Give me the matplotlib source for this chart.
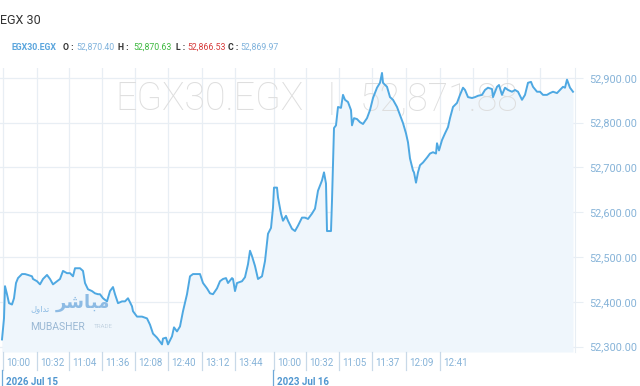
import numpy as np
import matplotlib.pyplot as plt
import matplotlib.transforms as mtransforms

# bar index (chart position) and close price
bar = [2, 4, 5, 7, 9, 12, 14, 16, 18, 22, 25, 28, 32, 33, 37, 40, 43, 47, 50, 53,
       57, 60, 63, 67, 70, 73, 75, 80, 83, 85, 88, 92, 95, 98, 100, 103, 107, 110, 113, 115,
       118, 122, 125, 128, 132, 133, 137, 142, 147, 150, 153, 157, 160, 162, 163, 166, 168, 172, 174, 177,
       180, 183, 187, 190, 193, 198, 200, 203, 207, 210, 213, 217, 220, 223, 226, 228, 232, 233, 235, 237,
       242, 245, 248, 250, 252, 255, 258, 262, 265, 268, 271, 273, 274, 277, 278, 281, 283, 286, 288, 292,
       295, 298, 302, 305, 308, 312, 315, 318, 322, 324, 326, 327, 331, 332,
       334, 336, 338, 341, 343, 345, 348, 351, 352, 354, 357, 360, 363, 367, 370, 373, 377, 380, 382, 383,
       387, 390, 393, 397, 400, 403, 406, 408, 410, 413, 414, 416, 418, 420, 423, 427, 430, 433, 436, 437,
       439, 442, 445, 448, 450, 453, 457, 460, 463, 465, 468, 472, 475, 478, 482, 485, 488, 492, 493, 497,
       499, 502, 505, 508, 512, 515, 518, 522, 525, 528, 531, 533, 537, 540, 543, 547, 550, 553, 557, 560,
       563, 565, 567, 570, 573]
close = [52316, 52363, 52435, 52417, 52397, 52394, 52408, 52442, 52453, 52462, 52462, 52460, 52457, 52451, 52446, 52439, 52451, 52460, 52451, 52439,
         52446, 52451, 52469, 52464, 52464, 52457, 52475, 52475, 52469, 52442, 52428, 52424, 52419, 52417, 52417, 52408, 52401, 52424, 52433, 52417,
         52397, 52401, 52401, 52408, 52390, 52379, 52367, 52367, 52363, 52349, 52329, 52320, 52311, 52305, 52318, 52320, 52305, 52323, 52343, 52334,
         52345, 52379, 52417, 52457, 52462, 52462, 52462, 52442, 52430, 52419, 52417, 52430, 52446, 52451, 52453, 52442, 52453, 52451, 52424, 52442,
         52446, 52455, 52484, 52514, 52502, 52480, 52451, 52457, 52491, 52552, 52565, 52610, 52655, 52655, 52633, 52597, 52581, 52592, 52581, 52563,
         52558, 52570, 52588, 52588, 52585, 52597, 52608, 52648, 52671, 52689, 52664, 52558, 52558, 52626,
         52788, 52794, 52835, 52833, 52862, 52851, 52846, 52828, 52794, 52810, 52808, 52801, 52797, 52810, 52828, 52855, 52878, 52889, 52911, 52889,
         52880, 52857, 52851, 52835, 52817, 52799, 52776, 52756, 52720, 52693, 52689, 52666, 52689, 52705, 52711, 52722, 52731, 52734, 52731, 52754,
         52738, 52761, 52776, 52790, 52810, 52835, 52844, 52862, 52878, 52873, 52857, 52855, 52857, 52860, 52862, 52873, 52878, 52875, 52857, 52880,
         52884, 52862, 52878, 52873, 52869, 52873, 52869, 52851, 52862, 52889, 52891, 52880, 52869, 52869, 52862, 52862, 52866, 52869, 52866, 52873,
         52880, 52878, 52896, 52878, 52869]

tick_pos = [3, 37, 69, 102, 135, 168, 202, 235, 274, 306, 339, 372, 406, 440]
tick_lbl = ['10:00', '10:32', '11:04', '11:36', '12:08', '12:40', '13:12', '13:44',
            '10:00', '10:32', '11:05', '11:37', '12:09', '12:41']
extra_grid = [473, 507, 540]
day_pos = [3, 274]
day_lbl = ['2026 Jul 15', '2023 Jul 16']
y_ticks = [52300, 52400, 52500, 52600, 52700, 52800, 52900]

W, H = 640, 386
fig = plt.figure(figsize=(W / 100, H / 100), dpi=100)
fig.patch.set_facecolor('white')
ax = fig.add_axes([0, (H - 352) / H, 575 / W, (352 - 68) / H])

line_c = '#4ea8e2'
grid_c = '#e8eef4'
lbl_c = '#86b3d8'

ax.set_xlim(0, 575)
ax.set_ylim(52288, 52922)

for p in tick_pos + extra_grid:
    ax.axvline(p, color=grid_c, lw=0.9, zorder=0)
for v in y_ticks:
    ax.axhline(v, color=grid_c, lw=0.9, zorder=0)

ax.fill_between(bar, close, 52288, color='#eff6fc', lw=0, zorder=1)
ax.plot(bar, close, color=line_c, lw=1.4, zorder=3)

# watermark
wm = dict(fontsize=27, color='#dedede', family='Roboto', fontweight='light',
          va='center', zorder=2)
ax.text(115 / 575, 1 - (99 - 68) / 284, 'EGX30.EGX', transform=ax.transAxes, ha='left', **wm)
ax.text(331 / 575, 1 - (99 - 68) / 284, '|', transform=ax.transAxes, ha='center', **wm)
ax.text(360 / 575, 1 - (99 - 68) / 284, '52,871.88', transform=ax.transAxes, ha='left', **wm)

# logo
fig.text(56 / W, 1 - 303 / H, '\uFEAE\uFEB7\uFE8E\uFE92\uFEE3', fontsize=13, color='#6da8dc',
         family='DejaVu Sans', fontweight='bold', ha='left', va='center', alpha=0.75)
fig.text(30 / W, 1 - 309 / H, '\uFEDD\uFEED\uFE8D\uFEAA\uFE97', fontsize=6, color='#6da8dc',
         family='DejaVu Sans', ha='left', va='center', alpha=0.75)
fig.text(30 / W, 1 - 327 / H, 'MUBASHER', fontsize=7.5, color='#9ab8d4', family='Roboto',
         ha='left', va='center')
fig.text(94 / W, 1 - 327 / H, 'TRADE', fontsize=4.5, color='#c4d4e2', family='Roboto',
         ha='left', va='center')

# axes styling
for s in ['top', 'left', 'bottom']:
    ax.spines[s].set_visible(False)
ax.spines['right'].set_color(grid_c)
ax.set_xticks([])
ax.yaxis.tick_right()
ax.set_yticks(y_ticks)
ax.set_yticklabels(['{:,.2f}'.format(v) for v in y_ticks])
ax.tick_params(axis='y', length=6, color=grid_c, pad=4, labelsize=7.8,
               labelcolor=lbl_c)
for t in ax.get_yticklabels():
    t.set_family('Roboto')

trans = ax.get_xaxis_transform()
off = mtransforms.ScaledTranslation(3 / 100, 0, fig.dpi_scale_trans)
for p, lab in zip(tick_pos, tick_lbl):
    ax.plot([p, p], [0, -0.065], color='#c8d9e8', lw=0.9, transform=trans, clip_on=False)
    ax.text(p, -0.04, lab, transform=trans + off, ha='left', va='center',
            fontsize=7, color=lbl_c, family='Roboto')
for p, lab in zip(day_pos, day_lbl):
    ax.plot([p - 1, p - 1], [-0.065, -0.125], color='#6fa9d8', lw=0.9, transform=trans, clip_on=False)
    ax.text(p, -0.105, lab, transform=trans + off, ha='left', va='center',
            fontsize=7, color='#4f96d0', family='Roboto', fontweight='bold')

# header
fig.text(0, 1 - 20 / H, 'EGX 30', fontsize=9, color='#333333', family='Roboto',
         ha='left', va='center')
hdr = [(12, 'EGX30.EGX', '#5aa5dd', 'bold'), (63, 'O :', '#333333', 'bold'),
       (76, '52,870.40', '#7fb2dc', 'normal'), (118, 'H :', '#333333', 'bold'),
       (133, '52,870.63', '#3db83f', 'normal'), (176, 'L :', '#333333', 'bold'),
       (187, '52,866.53', '#d63a3a', 'normal'), (228, 'C :', '#333333', 'bold'),
       (240, '52,869.97', '#7fb2dc', 'normal')]
for x, s, c, w in hdr:
    fig.text(x / W, 1 - 47 / H, s, fontsize=6.3, color=c, fontweight=w, family='Roboto',
             ha='left', va='center')

fig.savefig('out.png', dpi=100)
